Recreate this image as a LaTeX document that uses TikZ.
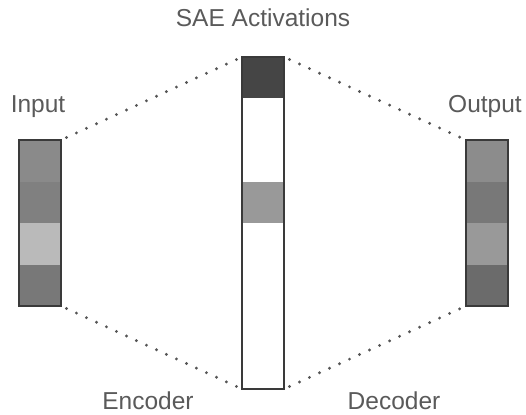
\documentclass[tikz,border=0pt]{standalone}
\usepackage{fontspec}
\setmainfont{Liberation Sans}
\usetikzlibrary{positioning,fit}
\definecolor{txtgray}{HTML}{5A5A5A}
\definecolor{dotgray}{HTML}{555555}
\definecolor{framegray}{HTML}{3A3A3A}

\begin{document}
\begin{tikzpicture}[x=1pt,y=-1pt,% y runs downwards, as in the picture
					every node/.style={
						inner sep=0pt,		% cells touch each other
						outer sep=0pt
						},
					cell/.style={rectangle,minimum width=42pt,minimum height=41.5pt,anchor=north},
					frame/.style={draw=framegray,line width=1.6pt},
					lbl/.style={text=txtgray,font=\fontsize{24.5}{28}\selectfont,anchor=base},
					dots/.style={draw=dotgray,line width=3.2pt,line cap=round,dash pattern=on 0pt off 11pt}
					]
\useasboundingbox (0,0) rectangle (526,414);

% input vector
\foreach \c [count=\i] in {black!46,black!50,black!27,black!53}
	\node[cell,fill=\c] (in\i) at (40,{140+41.5*(\i-1)}) {};
\node[frame,fit=(in1)(in4)] (input) {};

% SAE activations
\foreach \c [count=\i] in {black!73,white,white,black!40,white,white,white,white}
	\node[cell,fill=\c] (act\i) at (263,{57+41.5*(\i-1)}) {};
\node[frame,fit=(act1)(act8)] (sae) {};

% output vector
\foreach \c [count=\i] in {black!45,black!53,black!40,black!58}
	\node[cell,fill=\c] (out\i) at (487,{140+41.5*(\i-1)}) {};
\node[frame,fit=(out1)(out4)] (output) {};

% labels
\node[lbl] (inlbl) at (38,113) {Input};
\node[lbl] (outlbl) at (485,113) {Output};
\node[lbl] (saelbl) at (263,27) {SAE Activations};
\node[lbl] (enclbl) at (148,409) {Encoder};
\node[lbl] (declbl) at (394,409) {Decoder};

% encoder and decoder fans
\path[dots]
(input.north east) edge [shorten <=6pt,shorten >=6pt] (sae.north west)
(input.south east) edge [shorten <=6pt,shorten >=6pt] (sae.south west)
(sae.north east) edge [shorten <=6pt,shorten >=6pt] (output.north west)
(sae.south east) edge [shorten <=6pt,shorten >=6pt] (output.south west)
;
\end{tikzpicture}
\end{document}
